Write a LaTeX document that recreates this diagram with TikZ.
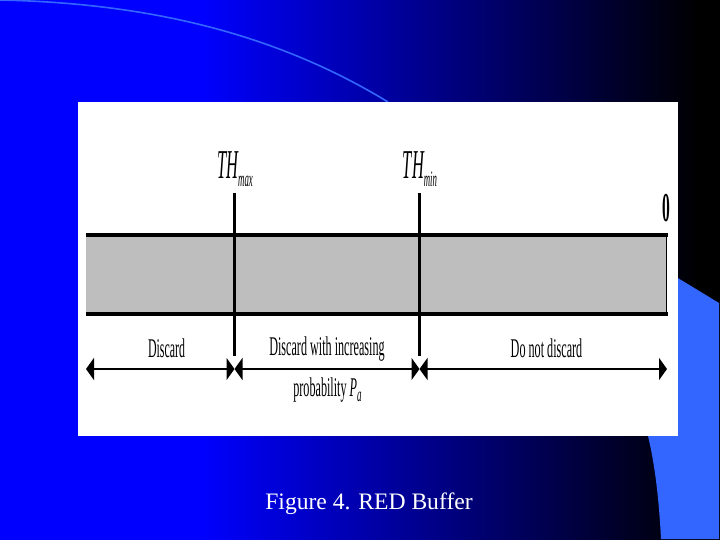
\documentclass[tikz,border=0pt]{standalone}
\usepackage{graphicx}
\usepackage{fontspec}
\setmainfont{Liberation Serif}
\usetikzlibrary{arrows.meta}
\definecolor{lightblue}{RGB}{51,102,255}
\definecolor{bandgray}{RGB}{190,190,190}
\pgfdeclarehorizontalshading{slidebg}{100bp}{
  color(0bp)=(rgb:red,0;green,0;blue,1);
  color(38.9bp)=(rgb:red,0;green,0;blue,1);
  color(73.6bp)=(black);
  color(100bp)=(black)}
\newcommand{\squeezed}[3]{\scalebox{#1}[1]{\fontsize{#2}{#2}\selectfont #3}}
\tikzset{
  x=1pt,y=-1pt,
  bar/.style={line width=4pt,black},
  tick/.style={line width=3pt,black},
  span/.style={line width=1.6pt,black,{Triangle[length=8pt,width=22pt]}-{Triangle[length=8pt,width=22pt]}},
  lab/.style={inner sep=0pt,text=black},
}
\begin{document}
\begin{tikzpicture}
\useasboundingbox (0,0) rectangle (720,540);
\shade[shading=slidebg] (0,0) rectangle (720,540);
\fill[lightblue] (640,255) -- (719,303) -- (719,539) -- (661,539)
  .. controls (659,500) and (655,465) .. (648,436) -- cycle;
\draw[lightblue,line width=1.6pt] (0,0) .. controls (140,3) and (270,30) .. (388,102);
\fill[white] (78,102) rectangle (678,436);
% band
\fill[bandgray] (86,235) rectangle (666.7,313.7);
\draw[black,line width=0.6pt] (666.7,235) -- (666.7,313.7);
\coordinate (bl) at (86,235); \coordinate (br) at (668,235);
\coordinate (cl) at (86,313.7); \coordinate (cr) at (668,313.7);
\draw[bar] (bl) -- (br);
\draw[bar] (cl) -- (cr);
% thresholds
\coordinate (maxtop) at (234.5,193); \coordinate (maxbot) at (234.5,356);
\coordinate (mintop) at (419.5,193); \coordinate (minbot) at (419.5,356);
\draw[tick] (maxtop) -- (maxbot);
\draw[tick] (mintop) -- (minbot);
% spans
\coordinate (s0) at (86,369); \coordinate (s1) at (234.5,369);
\coordinate (s2) at (419.5,369); \coordinate (s3) at (667,369);
\draw[span] (s0) -- (s1);
\draw[span] (s1) -- (s2);
\draw[span] (s2) -- (s3);
% labels
\node[lab] (thmax) at (235,169) {\squeezed{0.4}{41}{\itshape TH\raisebox{-8pt}{\fontsize{22}{22}\selectfont max}}};
\node[lab] (thmin) at (420,169) {\squeezed{0.4}{41}{\itshape TH\raisebox{-8pt}{\fontsize{22}{22}\selectfont min}}};
\node[lab] (zero) at (666,208) {\squeezed{0.38}{41}{\bfseries 0}};
\node[lab] (discard) at (166.5,348) {\squeezed{0.44}{27}{Discard}};
\node[lab] (inc) at (327,349.5) {\squeezed{0.45}{27}{Discard with increasing}};
\node[lab] (prob) at (327.5,390) {\squeezed{0.45}{27}{probability \itshape P\raisebox{-5pt}{\fontsize{20}{20}\selectfont a}}};
\node[lab] (keep) at (546.5,348) {\squeezed{0.45}{27}{Do not discard}};
\node[inner sep=0pt,text=white] (cap) at (369,504) {\fontsize{23.6}{23.6}\selectfont Figure 4. RED Buffer};
\end{tikzpicture}
\end{document}
